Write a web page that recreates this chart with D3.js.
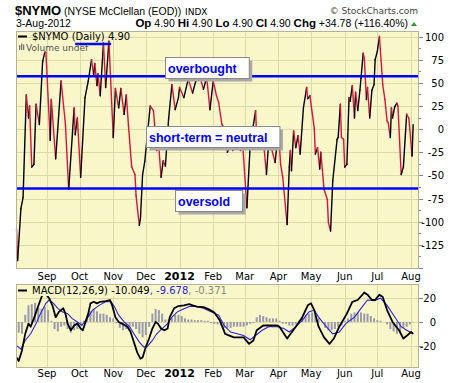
<!DOCTYPE html>
<html>
<head>
<meta charset="utf-8">
<script src="https://cdn.jsdelivr.net/npm/d3@7"></script>
<style>
body { margin: 0; background: #fff; }
svg { display: block; }
</style>
</head>
<body>
<div id="chart"></div>
<script>
// $NYMO daily
var nymoDates = [
  "2011-08-04","2011-08-05","2011-08-08","2011-08-10","2011-08-13","2011-08-15","2011-08-16","2011-08-18","2011-08-20","2011-08-22","2011-08-25","2011-08-28","2011-08-30","2011-08-31",
  "2011-09-04","2011-09-05","2011-09-09","2011-09-14","2011-09-18","2011-09-21","2011-09-26","2011-09-27","2011-09-29",
  "2011-10-02","2011-10-06","2011-10-09","2011-10-12","2011-10-14","2011-10-15","2011-10-17","2011-10-18","2011-10-20","2011-10-23","2011-10-25","2011-10-28",
  "2011-11-01","2011-11-03","2011-11-06","2011-11-08","2011-11-11","2011-11-13","2011-11-15","2011-11-18","2011-11-21","2011-11-22","2011-11-25","2011-11-26","2011-11-28","2011-11-30",
  "2011-12-05","2011-12-08","2011-12-11","2011-12-13","2011-12-15","2011-12-17","2011-12-19","2011-12-22","2011-12-25","2011-12-28","2011-12-31",
  "2012-01-01","2012-01-05","2012-01-09","2012-01-13","2012-01-16","2012-01-20","2012-01-23","2012-01-26","2012-01-29",
  "2012-02-01","2012-02-04","2012-02-06","2012-02-09","2012-02-12","2012-02-14","2012-02-17","2012-02-19","2012-02-22","2012-02-26","2012-02-28",
  "2012-03-03","2012-03-06","2012-03-11","2012-03-12","2012-03-19","2012-03-21","2012-03-23","2012-03-25","2012-03-29",
  "2012-04-01","2012-04-03","2012-04-05","2012-04-09","2012-04-11","2012-04-12","2012-04-13","2012-04-15","2012-04-17","2012-04-19","2012-04-21","2012-04-24","2012-04-27","2012-04-28","2012-04-30",
  "2012-05-04","2012-05-05","2012-05-07","2012-05-09","2012-05-10","2012-05-13","2012-05-16","2012-05-17","2012-05-19","2012-05-21","2012-05-25","2012-05-26","2012-05-28","2012-05-29","2012-05-31",
  "2012-06-01","2012-06-03","2012-06-05","2012-06-06","2012-06-08","2012-06-10","2012-06-11","2012-06-13","2012-06-15","2012-06-16","2012-06-18","2012-06-19","2012-06-21","2012-06-22","2012-06-24","2012-06-26","2012-06-28","2012-06-29",
  "2012-07-01","2012-07-03","2012-07-06","2012-07-08","2012-07-10","2012-07-11","2012-07-13","2012-07-14","2012-07-15","2012-07-17","2012-07-19","2012-07-20","2012-07-23","2012-07-25","2012-07-28","2012-07-30",
  "2012-08-02","2012-08-03"
];
var nymoValues = [
  -108,-142,-86,-74,37,12,25,-41,-38,27,5,73,83,83,
  -12,32,-32,52,5,-65,23,-6,12,
  -52,34,52,75,58,71,47,60,36,93,45,95,
  -9,44,23,44,16,37,4,-41,-49,-72,-104,-97,-49,-35,
  25,20,-23,-20,-52,-34,-40,12,48,21,34,
  45,34,54,39,52,56,43,56,21,
  52,36,29,5,0,-25,-17,-23,-14,-23,-14,
  -85,-18,20,-8,-23,-49,-14,-18,-36,
  0,-38,-52,-103,-41,-23,-45,-2,-20,-7,-27,23,45,33,36,
  1,-27,-20,-43,-25,-65,-76,-101,-110,-56,-11,-9,27,-9,-11,
  -41,-38,34,30,47,12,40,20,42,55,82,77,32,45,12,42,48,75,
  84,100,48,32,9,7,-9,23,12,24,28,25,-49,-41,16,12,
  -29,4.9
];

// MACD(12,26,9) line
var macdDates = [
  "2011-08-04","2011-08-06","2011-08-09","2011-08-12","2011-08-15","2011-08-17","2011-08-20","2011-08-23","2011-08-26","2011-08-29",
  "2011-09-03","2011-09-06","2011-09-09","2011-09-12","2011-09-16","2011-09-18","2011-09-20","2011-09-23","2011-09-26","2011-09-29",
  "2011-10-02","2011-10-04","2011-10-06","2011-10-09","2011-10-11","2011-10-14","2011-10-17","2011-10-20","2011-10-25","2011-10-29","2011-10-31",
  "2011-11-03","2011-11-06","2011-11-09","2011-11-14","2011-11-17","2011-11-20","2011-11-23","2011-11-26","2011-11-28",
  "2011-12-01","2011-12-04","2011-12-07","2011-12-10","2011-12-12","2011-12-15","2011-12-18","2011-12-21","2011-12-23","2011-12-27","2011-12-31",
  "2012-01-05","2012-01-10","2012-01-13","2012-01-17","2012-01-23","2012-01-28",
  "2012-02-02","2012-02-07","2012-02-12","2012-02-20","2012-02-29",
  "2012-03-05","2012-03-09","2012-03-12","2012-03-18","2012-03-22","2012-03-27","2012-03-31",
  "2012-04-02","2012-04-09","2012-04-17","2012-04-23","2012-04-28",
  "2012-05-01","2012-05-04","2012-05-08","2012-05-13","2012-05-18","2012-05-22","2012-05-27",
  "2012-06-03","2012-06-08","2012-06-13","2012-06-19","2012-06-22","2012-06-26","2012-06-29",
  "2012-07-03","2012-07-06","2012-07-10","2012-07-15","2012-07-21","2012-07-25","2012-07-29",
  "2012-08-01","2012-08-03"
];
var macdValues = [
  -30,-33,-24,-10,-1.4,-4,3,11,18.5,26,
  20,14,4,8.5,11.5,7,-1.4,-7,-3,-1.4,
  -5.6,-7,-1.4,7,15.7,17,15.7,17,17.5,18.5,14,
  4,0,-1.4,-4,-8.5,-17,-25.6,-31,-30,
  -21,-14,-5.6,0,-1.4,-5.6,-7,-5.6,4,11.5,13.4,
  14,15,14,13,12.5,10.6,
  8,1.5,-10,-13,-13,
  -18.5,-15.6,-7,-3,-3,-3,-3,
  -4,-14,-4,4,14,
  15.7,10,-4,-13,-18.5,-14,-4,
  7,17,18.5,24.8,23,18.5,18.5,
  23,21,10,0,-7,-14,-11,
  -8.5,-10.049
];

// signal line
var signalDates = [
  "2011-08-04","2011-08-08","2011-08-12","2011-08-17","2011-08-22","2011-08-26","2011-08-31",
  "2011-09-03","2011-09-07","2011-09-11","2011-09-15","2011-09-20","2011-09-24","2011-09-29",
  "2011-10-03","2011-10-08","2011-10-13","2011-10-19","2011-10-25","2011-10-30",
  "2011-11-02","2011-11-06","2011-11-11","2011-11-16","2011-11-20","2011-11-25","2011-11-29",
  "2011-12-02","2011-12-07","2011-12-11","2011-12-16","2011-12-21","2011-12-25","2011-12-30",
  "2012-01-04","2012-01-10","2012-01-16","2012-01-23","2012-01-30",
  "2012-02-06","2012-02-11","2012-02-17","2012-02-23","2012-02-29",
  "2012-03-06","2012-03-11","2012-03-17","2012-03-23","2012-03-31",
  "2012-04-06","2012-04-11","2012-04-17","2012-04-23","2012-04-29",
  "2012-05-04","2012-05-08","2012-05-15","2012-05-21","2012-05-27",
  "2012-06-02","2012-06-10","2012-06-16","2012-06-22","2012-06-28",
  "2012-07-04","2012-07-10","2012-07-16","2012-07-23","2012-07-28",
  "2012-08-03"
];
var signalValues = [
  -20,-23,-15.6,-10,-1.4,7,15.7,
  18.5,15.7,11.5,8.5,7,3,0,
  -3,3,10,14,17,17,
  13,5.7,0,-4,-10,-17,-21,
  -21,-15.6,-10,-5.6,-1.4,4,8.5,
  10.6,13,13,11.5,8.5,
  5.7,-3,-8.5,-10,-11.4,
  -15,-11.4,-7,-4,-4,
  -5.6,-8.5,-4,1.4,8.5,
  10,4,-4,-10,-8.5,
  -1.4,4,11.5,18.5,18,
  20,14,5.7,-4,-7,
  -9.678
];

// histogram, one bar every 3 days from histStart
var histStart = "2011-08-06";
var histStepDays = 3;
var histValues = [
  -9,-10,6,14,15,16,12,11,13,10,
  1,-6,-8,-4,-3,-6,-9,-7,-6,-3,
  1,4,9,11,9,7,7,6,4,3,
  -1,-5,-7,-6,-4,-4,-6,-10,-13,-11,
  -4,7,11,10,7,2,2,3,6,6,
  5,3,2,2,1.5,1.5,1.5,1,1,-1,
  -1.5,-2,-3,-5,-5,-5,-4,-4,-4,-4,
  -3,-1.5,-1,4,6,5,4,3,3,3,
  1,-1.5,-1.5,-3,-3,-2,1,4,6,7,
  8,6,3,0,-5,-7,-7,-6,-4,-3,
  1,3,7,8,8,8,7,7,5,3,
  1.5,1,0,-2,-6,-8,-10,-9,-5,-4,
  -2,-0.371
];

var nymoTicks = [100, 75, 50, 25, 0, -25, -50, -75, -100, -125];
var macdTicks = [20, 0, -20];
var levelValues = [57, -64];          // overbought / oversold lines
var topLineDates = ["2011-09-27", "2011-10-30"];
var topLineValue = 92;
var noteTexts = ["overbought", "short-term = neutral", "oversold"];
var noteDates = ["2011-12-19", "2011-12-01", "2011-12-28"];
var noteValues = [78, 3.3, -65.8];

var parse = d3.timeParse("%Y-%m-%d");
var font = "'DejaVu Sans', Verdana, sans-serif";
var arial = "'Liberation Sans', Arial, sans-serif";
var plotBg = "#f9f7c9", gridCol = "#dcdba8", frameCol = "#b6b48e";

var svg = d3.select("#chart").append("svg")
    .attr("width", 460)
    .attr("height", 383)
    .style("font-family", font);

var x = d3.scaleTime()
    .domain([new Date(2011, 7, 3, 12), new Date(2012, 7, 8, 9)])
    .range([16, 419]);
var y = d3.scaleLinear().domain([-150, 106]).range([268, 31]);
var y2 = d3.scaleLinear().domain([-38, 32]).range([367, 284]);

var months = d3.timeMonth.range(new Date(2011, 8, 1), new Date(2012, 7, 2));

// ---- header
var head = svg.append("g");
head.append("text").attr("x", 15).attr("y", 15)
    .style("font-family", arial).style("font-weight", "bold").style("font-size", "13px")
    .text("$NYMO");
head.append("text").attr("x", 64).attr("y", 15)
    .style("font-family", arial).style("font-size", "10.5px")
    .text("(NYSE McClellan (EOD))");
head.append("text").attr("x", 185).attr("y", 15)
    .style("font-size", "9px")
    .text("INDX");
head.append("text").attr("x", 418).attr("y", 14).attr("text-anchor", "end")
    .style("font-size", "9px").attr("fill", "#444")
    .text("\u00a9 StockCharts.com");
head.append("text").attr("x", 16).attr("y", 27)
    .style("font-family", arial).style("font-size", "10.5px")
    .text("3-Aug-2012");
var quote = head.append("text").attr("x", 408).attr("y", 27).attr("text-anchor", "end")
    .style("font-family", arial).style("font-size", "10.5px");
[["Op", " 4.90 "], ["Hi", " 4.90 "], ["Lo", " 4.90 "], ["Cl", " 4.90 "], ["Chg", " +34.78 (+116.40%)"]]
  .forEach(function (p) {
    quote.append("tspan").style("font-weight", "bold").style("font-size", "11.5px").text(p[0]);
    quote.append("tspan").text(p[1]);
  });
head.append("path").attr("d", "M411,26 L414,22 L417,26 Z").attr("fill", "#2a9a2a");

// ---- panel frame helper
function panel(top, bottom, yScale, gridVals) {
  var g = svg.append("g");
  g.append("rect").attr("x", 16.5).attr("y", top + 0.5)
      .attr("width", 402).attr("height", bottom - top)
      .attr("fill", plotBg);
  g.selectAll(".vg").data(months).enter().append("line")
      .attr("x1", d => Math.round(x(d)) + 0.5).attr("x2", d => Math.round(x(d)) + 0.5)
      .attr("y1", top).attr("y2", bottom)
      .attr("stroke", gridCol);
  g.selectAll(".hg").data(gridVals).enter().append("line")
      .attr("x1", 16).attr("x2", 419)
      .attr("y1", d => Math.round(yScale(d)) + 0.5).attr("y2", d => Math.round(yScale(d)) + 0.5)
      .attr("stroke", gridCol);
  return g;
}
function frame(top, bottom) {
  svg.append("rect").attr("x", 16.5).attr("y", top + 0.5)
      .attr("width", 402).attr("height", bottom - top)
      .attr("fill", "none").attr("stroke", frameCol);
}

// ---- main panel
var main = panel(31, 268, y, d3.range(-125, 101, 25));

// colour each day by direction
var pts = nymoDates.map((d, i) => ({ date: parse(d), v: nymoValues[i] }));
main.selectAll(".seg").data(d3.pairs(pts)).enter().append("line")
    .attr("x1", d => x(d[0].date)).attr("y1", d => y(d[0].v))
    .attr("x2", d => x(d[1].date)).attr("y2", d => y(d[1].v))
    .attr("stroke", d => d[1].v > d[0].v ? "#000" : "#d8143c")
    .attr("stroke-width", 1.4)
    .attr("stroke-linecap", "round");

main.selectAll(".lvl").data(levelValues).enter().append("line")
    .attr("x1", 16).attr("x2", 419)
    .attr("y1", d => y(d)).attr("y2", d => y(d))
    .attr("stroke", "#0000ff").attr("stroke-width", 2.5);
main.append("line")
    .attr("x1", x(parse(topLineDates[0]))).attr("x2", x(parse(topLineDates[1])))
    .attr("y1", y(topLineValue)).attr("y2", y(topLineValue))
    .attr("stroke", "#0000ff").attr("stroke-width", 2.5);

// annotation boxes
noteTexts.forEach(function (t, i) {
  var bx = Math.round(x(parse(noteDates[i]))) + 0.5, by = Math.round(y(noteValues[i])) + 0.5;
  var g = main.append("g");
  var shadow = g.append("rect").attr("fill", "#a8a8a8");
  var box = g.append("rect").attr("fill", "#fff").attr("stroke", "#8a8a8a");
  var txt = g.append("text").attr("x", bx + 2.5).attr("y", by + 15)
      .style("font-family", arial).style("font-weight", "bold").style("font-size", "12.5px")
      .attr("fill", "#0000ff").text(t);
  var w = txt.node().getComputedTextLength() + 15;
  box.attr("x", bx).attr("y", by).attr("width", w).attr("height", 21);
  shadow.attr("x", bx + 3).attr("y", by + 3).attr("width", w).attr("height", 21);
});

// legend
main.append("line").attr("x1", 18).attr("x2", 27).attr("y1", 36.5).attr("y2", 36.5)
    .attr("stroke", "#000").attr("stroke-width", 2);
main.append("text").attr("x", 32).attr("y", 40).style("font-size", "10px")
    .text("$NYMO (Daily) 4.90");
[[19, 45], [21, 43.5], [23, 44.5]].forEach(function (b) {
  main.append("rect").attr("x", b[0]).attr("y", b[1]).attr("width", 1.3).attr("height", 50 - b[1]).attr("fill", "#777");
});
main.append("text").attr("x", 26).attr("y", 50.5).style("font-size", "9px").attr("fill", "#555")
    .text("Volume undef");
frame(31, 268);

// right axis
var ax = svg.append("g");
ax.selectAll(".tk").data(d3.range(-150, 106, 12.5)).enter().append("line")
    .attr("x1", 419).attr("x2", d => d % 25 === 0 ? 423 : 421)
    .attr("y1", d => Math.round(y(d)) + 0.5).attr("y2", d => Math.round(y(d)) + 0.5)
    .attr("stroke", "#888");
ax.selectAll(".tl").data(nymoTicks).enter().append("text")
    .attr("x", 444).attr("y", d => y(d) + 4).attr("text-anchor", "end")
    .style("font-size", "10px").text(d => d);

// month labels
function monthLabels(yy) {
  svg.selectAll(null).data(months).enter().append("text")
      .attr("x", d => x(d)).attr("y", yy).attr("text-anchor", "middle")
      .style("font-size", d => d.getMonth() === 0 ? "11px" : "10px")
      .style("font-weight", d => d.getMonth() === 0 ? "bold" : "normal")
      .text(d => d.getMonth() === 0 ? d3.timeFormat("%Y")(d) : d3.timeFormat("%b")(d));
}
monthLabels(280);

// ---- MACD panel
var mp = panel(284, 367, y2, [20, 0, -20]);
var h0 = parse(histStart);
mp.selectAll(".hb").data(histValues).enter().append("rect")
    .attr("x", (d, i) => x(d3.timeDay.offset(h0, i * histStepDays)) - 1)
    .attr("width", 2)
    .attr("y", d => Math.min(y2(d), y2(0)))
    .attr("height", d => Math.abs(y2(d) - y2(0)))
    .attr("fill", "#9a9aae");

var sig = signalDates.map((d, i) => ({ date: parse(d), v: signalValues[i] }));
var mac = macdDates.map((d, i) => ({ date: parse(d), v: macdValues[i] }));
var ln = d3.line().x(d => x(d.date)).y(d => y2(d.v));
mp.append("path").attr("d", ln(sig)).attr("fill", "none").attr("stroke", "#2a22e0").attr("stroke-width", 1.1);
mp.append("path").attr("d", ln(mac)).attr("fill", "none").attr("stroke", "#000").attr("stroke-width", 1.8)
    .attr("stroke-linejoin", "round");

// MACD legend
var lg = mp.append("g");
var lt = lg.append("text").attr("x", 32).attr("y", 294).style("font-size", "10px");
lt.append("tspan").attr("fill", "#000").text("MACD(12,26,9) -10.049");
lt.append("tspan").attr("fill", "#2a22e0").text(", -9.678");
lt.append("tspan").attr("fill", "#888").text(", -0.371");
var lw = lt.node().getComputedTextLength();
lg.insert("rect", "text").attr("x", 17).attr("y", 285).attr("width", lw + 18).attr("height", 11).attr("fill", plotBg);
lg.append("line").attr("x1", 18).attr("x2", 27).attr("y1", 290.5).attr("y2", 290.5)
    .attr("stroke", "#000").attr("stroke-width", 2);
frame(284, 367);

svg.selectAll(".mt").data(macdTicks).enter().append("line")
    .attr("x1", 419).attr("x2", 423)
    .attr("y1", d => Math.round(y2(d)) + 0.5).attr("y2", d => Math.round(y2(d)) + 0.5)
    .attr("stroke", "#888");
svg.selectAll(".ml").data(macdTicks).enter().append("text")
    .attr("x", 436).attr("y", d => y2(d) + 4).attr("text-anchor", "end")
    .style("font-size", "10px").text(d => d);

monthLabels(377);
</script>
</body>
</html>
